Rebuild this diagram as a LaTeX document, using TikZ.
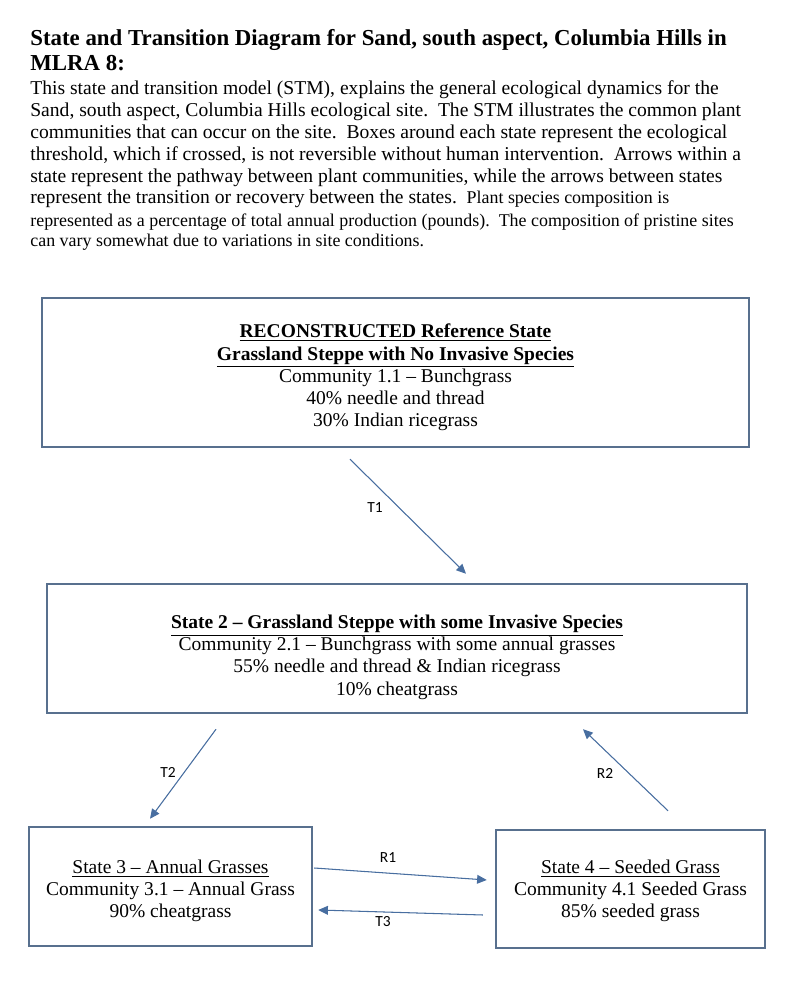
\documentclass[tikz,border=0pt]{standalone}
\usepackage{fontspec}
\setmainfont{Liberation Serif}
\newfontfamily\lblfont{Carlito}
\usetikzlibrary{arrows.meta}

\definecolor{boxblue}{RGB}{88,112,142}
\definecolor{arrowblue}{RGB}{72,110,160}

\begin{document}
\begin{tikzpicture}[>={Triangle[length=5.5pt,width=5pt]},
  statebox/.style={draw=boxblue, line width=1.4pt},
  boxtext/.style={align=center, inner sep=0pt, font=\fontsize{11.1}{12.65}\selectfont},
  trans/.style={->, draw=arrowblue, fill=arrowblue, line width=0.6pt},
  lbl/.style={font=\lblfont\fontsize{8.8}{10}\selectfont},
  para/.style={anchor=base west, inner sep=0pt}]

\useasboundingbox (0,0) rectangle (16,19.92);

% titolo
\node[para, font=\bfseries\fontsize{13}{14}\selectfont] (title1) at (0.6,19.01)
  {State and Transition Diagram for Sand, south aspect, Columbia Hills in};
\node[para, font=\bfseries\fontsize{13}{14}\selectfont] (title2) at (0.6,18.51)
  {MLRA 8:};

% testo
\node[para, font=\fontsize{11.15}{12}\selectfont] (line1) at (0.6,18.02)
  {This state and transition model (STM), explains the general ecological dynamics for the};
\node[para, font=\fontsize{11.15}{12}\selectfont] (line2) at (0.6,17.584)
  {Sand, south aspect, Columbia Hills ecological site.\ \ The STM illustrates the common plant};
\node[para, font=\fontsize{11.15}{12}\selectfont] (line3) at (0.6,17.148)
  {communities that can occur on the site.\ \ Boxes around each state represent the ecological};
\node[para, font=\fontsize{11.15}{12}\selectfont] (line4) at (0.6,16.712)
  {threshold, which if crossed, is not reversible without human intervention.\ \ Arrows within a};
\node[para, font=\fontsize{11.15}{12}\selectfont] (line5) at (0.6,16.276)
  {state represent the pathway between plant communities, while the arrows between states};
\node[para, font=\fontsize{11.15}{12}\selectfont] (line6) at (0.6,15.84)
  {represent the transition or recovery between the states.\ \ {\fontsize{10.2}{11}\selectfont Plant species composition is}};
\node[para, font=\fontsize{10.2}{11}\selectfont] (line7) at (0.6,15.38)
  {represented as a percentage of total annual production (pounds).\ \ The composition of pristine sites};
\node[para, font=\fontsize{10.2}{11}\selectfont] (line8) at (0.6,14.98)
  {can vary somewhat due to variations in site conditions.};

% stati
\node[statebox, minimum width=14.14cm, minimum height=2.98cm] (ref) at (7.91,12.47) {};
\node[boxtext] (reftxt) at ([yshift=-0.1cm]ref.center)
  {\textbf{\underline{RECONSTRUCTED Reference State}}\\
   \textbf{\underline{Grassland Steppe with No Invasive Species}}\\
   Community 1.1 -- Bunchgrass\\
   40\% needle and thread\\
   30\% Indian ricegrass};
\node[statebox, minimum width=14.0cm, minimum height=2.58cm] (st2) at (7.94,6.95) {};
\node[boxtext] (st2txt) at ([yshift=-0.17cm]st2.center)
  {\textbf{\underline{State 2 -- Grassland Steppe with some Invasive Species}}\\
   Community 2.1 -- Bunchgrass with some annual grasses\\
   55\% needle and thread \& Indian ricegrass\\
   10\% cheatgrass};
\node[statebox, minimum width=5.66cm, minimum height=2.38cm] (st3) at (3.41,2.19) {};
\node[boxtext] (st3txt) at ([yshift=-0.09cm]st3.center)
  {\underline{State 3 -- Annual Grasses}\\
   Community 3.1 -- Annual Grass\\
   90\% cheatgrass};
\node[statebox, minimum width=5.38cm, minimum height=2.36cm] (st4) at (12.61,2.14) {};
\node[boxtext] (st4txt) at ([yshift=-0.04cm]st4.center)
  {\underline{State 4 -- Seeded Grass}\\
   Community 4.1 Seeded Grass\\
   85\% seeded grass};

% transizioni
\draw[trans] ([shift={(-0.91,-0.22)}]ref.south) -- ([shift={(1.38,0.18)}]st2.north);
\draw[trans] ([shift={(-3.62,-0.30)}]st2.south) -- ([shift={(-0.41,0.14)}]st3.north);
\draw[trans] ([shift={(0.75,0.36)}]st4.north) -- ([shift={(3.72,-0.30)}]st2.south);
\draw[trans] ([shift={(0.02,0.37)}]st3.east) -- ([shift={(-0.16,0.18)}]st4.west);
\draw[trans] ([shift={(-0.24,-0.52)}]st4.west) -- ([shift={(0.10,-0.47)}]st3.east);

% etichette
\node[lbl] (t1) at (7.50,9.76) {T1};
\node[lbl] (t2) at (3.36,4.48) {T2};
\node[lbl] (r2) at (12.10,4.46) {R2};
\node[lbl] (r1) at (7.76,2.76) {R1};
\node[lbl] (t3) at (7.66,1.48) {T3};

\end{tikzpicture}
\end{document}
